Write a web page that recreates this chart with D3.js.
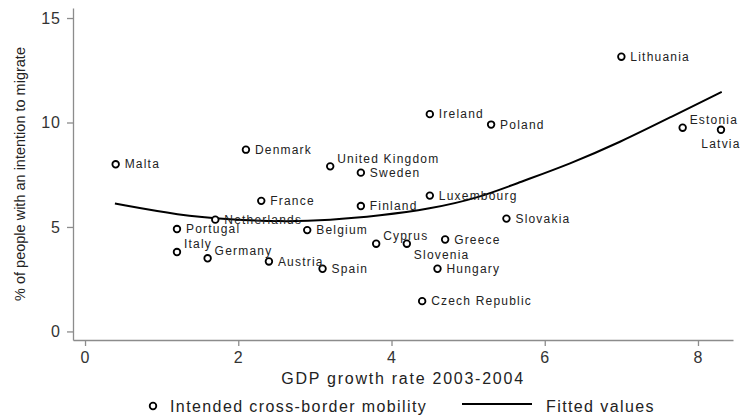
<!DOCTYPE html>
<meta charset="utf-8">
<script src="https://cdn.jsdelivr.net/npm/d3@7"></script>
<style>
  body { margin: 0; background: #fff; }
  text { font-family: "Liberation Sans", Arial, sans-serif; }
</style>
<body>
<script>

// Data
var countries = ["Malta", "Denmark", "United Kingdom", "Sweden", "Ireland", "Poland", "Lithuania",
                 "Estonia", "Latvia", "Luxembourg", "France", "Finland", "Netherlands", "Portugal",
                 "Belgium", "Cyprus", "Slovenia", "Greece", "Slovakia", "Italy", "Germany",
                 "Austria", "Spain", "Hungary", "Czech Republic"];
var gdpGrowth = [0.4, 2.1, 3.2, 3.6, 4.5, 5.3, 7.0, 7.8, 8.3, 4.5, 2.3, 3.6, 1.7, 1.2,
                 2.9, 3.8, 4.2, 4.7, 5.5, 1.2, 1.6, 2.4, 3.1, 4.6, 4.4];
var migrate   = [8.0, 8.7, 7.9, 7.6, 10.4, 9.9, 13.15, 9.75, 9.65, 6.5, 6.25, 6.0, 5.35, 4.9,
                 4.85, 4.2, 4.2, 4.4, 5.4, 3.8, 3.5, 3.35, 3.0, 3.0, 1.45];
// label position (stata clock): 3 = right, 1 = upper right, 4 = lower right, 6 = below
var labelPos  = [3, 3, 1, 3, 3, 3, 3, 1, 6, 3, 3, 3, 3, 3, 3, 1, 4, 3, 3, 1, 1, 3, 3, 3, 3];

// fitted values curve
var fitX = [0.39, 1.24, 1.89, 2.55, 3.2, 3.85, 4.5, 5.12, 5.68, 6.33, 6.98, 7.64, 8.31];
var fitY = [6.12, 5.55, 5.36, 5.25, 5.32, 5.54, 5.86, 6.37, 7.15, 8.02, 9.05, 10.25, 11.47];

var xTicks = [0, 2, 4, 6, 8];
var yTicks = [0, 5, 10, 15];

var width = 740, height = 417;

var svg = d3.select("body").append("svg")
    .attr("width", width)
    .attr("height", height);

var x = d3.scaleLinear().domain([-0.157, 8.457]).range([73, 733]);
var y = d3.scaleLinear().domain([-0.41, 15.48]).range([340, 8]);

var axisColor = "#8c8c8c", labelColor = "#222";

// x axis
var gx = svg.append("g")
    .attr("transform", "translate(0," + y.range()[0] + ")")
    .call(d3.axisBottom(x).tickValues(xTicks).tickSize(6).tickSizeOuter(0).tickPadding(6));
// y axis
var gy = svg.append("g")
    .attr("transform", "translate(" + x.range()[0] + ",0)")
    .call(d3.axisLeft(y).tickValues(yTicks).tickSize(6).tickSizeOuter(0).tickPadding(6));

[gx, gy].forEach(function(g) {
  g.select(".domain").attr("stroke", axisColor).attr("stroke-width", 1.3);
  g.selectAll(".tick line").attr("stroke", axisColor).attr("stroke-width", 1.3);
  g.selectAll(".tick text")
    .attr("fill", "#333")
    .style("font-family", '"Liberation Sans", Arial, sans-serif')
    .style("font-size", "16px")
    .style("letter-spacing", "1px");
});

// axis titles
svg.append("text")
    .attr("x", (x.range()[0] + x.range()[1]) / 2)
    .attr("y", 384)
    .attr("text-anchor", "middle")
    .attr("fill", labelColor)
    .style("font-size", "16px")
    .style("letter-spacing", "1.75px")
    .text("GDP growth rate 2003-2004");

svg.append("text")
    .attr("transform", "translate(25,174) rotate(-90)")
    .attr("text-anchor", "middle")
    .attr("fill", labelColor)
    .style("font-size", "14.5px")
    .text("% of people with an intention to migrate");

// fitted line
var line = d3.line()
    .x(function(d, i) { return x(fitX[i]); })
    .y(function(d) { return y(d); })
    .curve(d3.curveBasis);

svg.append("path")
    .datum(fitY)
    .attr("d", line)
    .attr("fill", "none")
    .attr("stroke", "#000")
    .attr("stroke-width", 2);

// points
var pts = countries.map(function(c, i) {
  return {name: c, gdp: gdpGrowth[i], mig: migrate[i], pos: labelPos[i]};
});

svg.selectAll(".pt")
    .data(pts)
  .enter().append("circle")
    .attr("class", "pt")
    .attr("cx", function(d) { return x(d.gdp); })
    .attr("cy", function(d) { return y(d.mig); })
    .attr("r", 3.3)
    .attr("fill", "#fff")
    .attr("stroke", "#000")
    .attr("stroke-width", 1.8);

var off = {3: [9, 0], 1: [7, -8], 4: [7, 11], 6: [0, 14]};

svg.selectAll(".lbl")
    .data(pts)
  .enter().append("text")
    .attr("class", "lbl")
    .attr("x", function(d) { return x(d.gdp) + off[d.pos][0]; })
    .attr("y", function(d) { return y(d.mig) + off[d.pos][1]; })
    .attr("dy", "0.35em")
    .attr("text-anchor", function(d) { return d.pos == 6 ? "middle" : "start"; })
    .attr("fill", labelColor)
    .style("font-size", "12px")
    .style("letter-spacing", "1.2px")
    .text(function(d) { return d.name; });

// legend
var legend = svg.append("g");
legend.append("circle")
    .attr("cx", 153).attr("cy", 406).attr("r", 3.3)
    .attr("fill", "#fff").attr("stroke", "#000").attr("stroke-width", 1.8);
legend.append("text")
    .attr("x", 170).attr("y", 406).attr("dy", "0.35em")
    .attr("fill", labelColor)
    .style("font-size", "16px").style("letter-spacing", "1.4px")
    .text("Intended cross-border mobility");
legend.append("line")
    .attr("x1", 462).attr("x2", 532).attr("y1", 404).attr("y2", 404)
    .attr("stroke", "#000").attr("stroke-width", 2);
legend.append("text")
    .attr("x", 546).attr("y", 406).attr("dy", "0.35em")
    .attr("fill", labelColor)
    .style("font-size", "16px").style("letter-spacing", "1.4px")
    .text("Fitted values");

</script>
</body>
</html>
